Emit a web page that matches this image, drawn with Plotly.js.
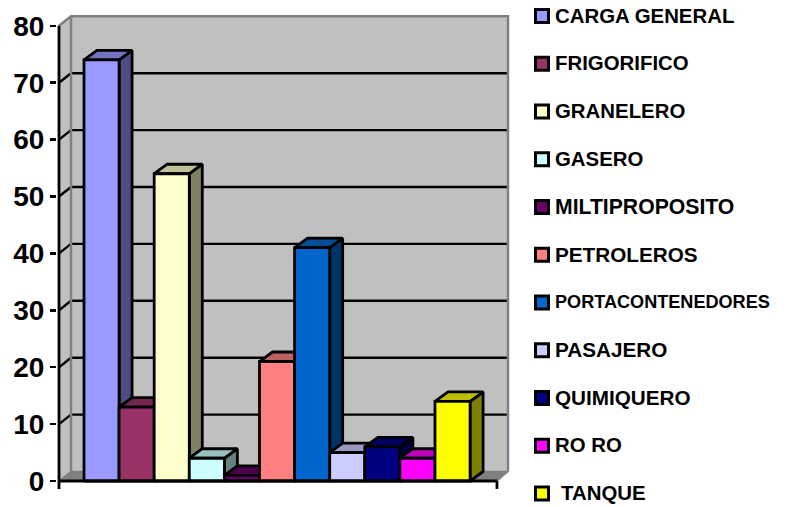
<!DOCTYPE html>
<html>
<head>
<meta charset="utf-8">
<script src="https://cdn.plot.ly/plotly-3.0.1.min.js"></script>
<style>html,body{margin:0;padding:0;background:#fff}</style>
</head>
<body>
<div id="chart" style="width:787px;height:507px"></div>
<script>
const categories = ["CARGA GENERAL","FRIGORIFICO","GRANELERO","GASERO","MILTIPROPOSITO","PETROLEROS","PORTACONTENEDORES","PASAJERO","QUIMIQUERO","RO RO","TANQUE"];
const values = [74,13,54,4,1,21,41,5,6,4,14];
const colors = ["#9999FF","#993366","#FFFFCC","#CCFFFF","#660066","#FF8080","#0066CC","#CCCCFF","#000080","#FF00FF","#FFFF00"];
const tickValues = [0,10,20,30,40,50,60,70,80];
const legendFontSizes = [20.4,20.4,20.4,20.4,21.2,20.7,18.1,20.7,20.7,20.4,20.4];
const legendIndent = [0,0,0,0,0,0,0,0,0,0,6];

// projection of the oblique 3D box, in data units
const DX = 0.37, DY = 1.67;
const WALL_DX = 0.342;
const X_MIN = -0.712, X_MAX = 12.08, FLOOR_RIGHT = 11.766;
const BLACK = "#000", WALL = "#C0C0C0", FRAME = "#808080";
const M = {l:57, r:277, t:13, b:17};
const plotW = 787 - M.l - M.r, plotH = 507 - M.t - M.b;
const AXIS_X = [X_MIN-2/35.1, X_MAX+2/35.1], AXIS_Y = [-9/5.69, 468/5.69];

function shade(hex, f){
  const n = parseInt(hex.slice(1),16);
  const c = [n>>16&255, n>>8&255, n&255].map(v=>Math.round(v*f));
  return `rgb(${c[0]},${c[1]},${c[2]})`;
}
function poly(x,y,fill,line,w){
  return {type:"scatter",mode:"lines",x:x,y:y,fill:fill?"toself":"none",fillcolor:fill||undefined,
    line:{color:line,width:w,simplify:false},hoverinfo:"skip",showlegend:false,cliponaxis:false};
}
const traces = [];
const backX = X_MIN + WALL_DX;
// left wall, back wall, floor
traces.push(poly([X_MIN,X_MIN,backX,backX,X_MIN],[0,80,80+DY,DY,0],WALL,WALL,1));
traces.push(poly([backX,backX,X_MAX,X_MAX,backX],[DY,80+DY,80+DY,DY,DY],WALL,WALL,1));
traces.push(poly([X_MIN,backX,X_MAX,FLOOR_RIGHT,X_MIN],[0,DY,DY,0,0],FRAME,FRAME,1));
// gridlines on the walls
tickValues.filter(v=>v>0&&v<80).forEach(v=>{
  traces.push(poly([X_MIN,backX,X_MAX],[v,v+DY,v+DY],null,BLACK,2.4));
});
// wall frame
traces.push(poly([X_MIN,backX,X_MAX,X_MAX],[80,80+DY,80+DY,DY],null,FRAME,2.5));
traces.push(poly([backX,backX],[DY,80+DY],null,FRAME,2.5));
traces.push(poly([backX,X_MAX,FLOOR_RIGHT],[DY,DY,0],null,FRAME,1.5));
traces.push(poly([X_MIN,backX],[0,DY],null,FRAME,1.5));
// bars, painted left to right
categories.forEach((name,i)=>{
  const v = values[i], c = colors[i], a = i, b = i+1;
  const side = poly([b,b+DX,b+DX,b,b],[0,DY,v+DY,v,0],shade(c,0.5),BLACK,2.8);
  const top = poly([a,a+DX,b+DX,b,a],[v,v+DY,v+DY,v,v],shade(c,0.75),BLACK,2.8);
  const front = poly([a,a,b,b,a],[0,v,v,0,0],c,BLACK,2.8);
  front.name = name;
  traces.push(side,top,front);
});
// axis lines and end ticks
traces.push(poly([X_MIN,X_MIN],[-1.4,80],null,BLACK,2.8));
traces.push(poly([X_MIN,FLOOR_RIGHT],[0,0],null,BLACK,2.8));
traces.push(poly([FLOOR_RIGHT,FLOOR_RIGHT],[0,-1.4],null,BLACK,2.8));

// legend
const legendFirstY = 16, legendStepY = 47.75, swatchX = 542, swatchR = 6.5, legendTextX = 554;
const px = v => (v-M.l)/plotW, py = v => (M.t+plotH-v)/plotH;
const shapes = [], annotations = [];
categories.forEach((name,i)=>{
  const cy = legendFirstY + i*legendStepY;
  shapes.push({type:"rect",xref:"paper",yref:"paper",x0:px(swatchX-swatchR),x1:px(swatchX+swatchR),
    y0:py(cy+swatchR),y1:py(cy-swatchR),fillcolor:colors[i],line:{color:BLACK,width:3}});
  annotations.push({xref:"paper",yref:"paper",x:px(legendTextX+legendIndent[i]),y:py(cy-0.4),xanchor:"left",yanchor:"middle",
    text:"<b>"+name+"</b>",showarrow:false,borderpad:0,
    font:{family:"Liberation Sans, Arial, sans-serif",size:legendFontSizes[i],color:BLACK}});
});

Plotly.newPlot("chart",traces,{
  width:787,height:507,margin:M,paper_bgcolor:"#fff",plot_bgcolor:"#fff",showlegend:false,
  xaxis:{range:AXIS_X,visible:false,fixedrange:true},
  yaxis:{range:AXIS_Y,tickmode:"array",tickvals:tickValues,ticks:"outside",ticklen:6,tickwidth:2.5,tickcolor:BLACK,
    showgrid:false,zeroline:false,showline:false,fixedrange:true,
    tickfont:{family:"Liberation Sans, Arial, sans-serif",size:28,color:BLACK,weight:700}},
  shapes:shapes,annotations:annotations
},{displayModeBar:false,staticPlot:true});
</script>
</body>
</html>
